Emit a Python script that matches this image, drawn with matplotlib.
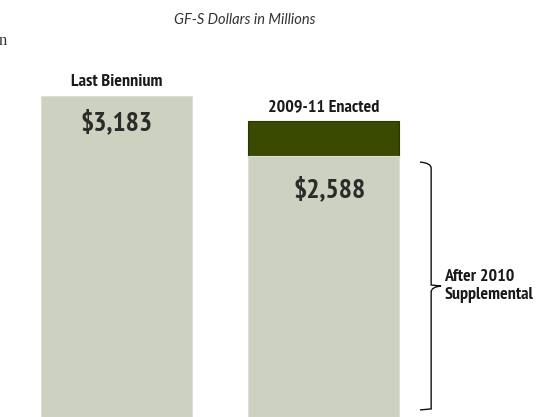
import matplotlib
matplotlib.use("Agg")
import matplotlib.pyplot as plt
from matplotlib.path import Path
from matplotlib.patches import PathPatch

# values, $ millions
labels = ["Last Biennium", "2009-11 Enacted"]
enacted = [3183, 2935]
after_supp = [3183, 2588]
value_text = ["$3,183", "$2,588"]
brace_label = "After 2010\nSupplemental"
title = "GF-S Dollars in Millions"

light = "#cdd2c0"
dark = "#3a4a00"
narrow = ["PT Sans Narrow", "DejaVu Sans"]

fig = plt.figure(figsize=(5.45, 4.17), dpi=100)
ax = fig.add_axes([0, 0, 1, 1])
ax.set_xlim(-0.563, 2.07)
ax.set_ylim(0, 4135)
ax.axis("off")

x = [0, 1]
w = 0.73
# dark cut portion on top of the second bar
ax.bar(x[1], enacted[1] - after_supp[1], width=w, bottom=after_supp[1],
       color=dark, edgecolor="#2a3500", linewidth=0.8)
ax.bar(x, after_supp, width=w, color=light, edgecolor="#dcdfd4", linewidth=0.8)

val_pad = [130, 200]
val_dx = [0, 0.03]
for i in range(2):
    ax.text(x[i], enacted[i] + 60, labels[i], ha="center", va="bottom",
            fontsize=13, fontweight="bold", family=narrow, color="#1a1a1a")
    ax.text(x[i] + val_dx[i], after_supp[i] - val_pad[i], value_text[i],
            ha="center", va="top", fontsize=20, fontweight="bold",
            family=narrow, color="#2b2b2b")

# curly brace next to the second bar
top = after_supp[1] - 60
bot = 70
mid = (top + bot) / 2
x0, x1, x2 = 1.466, 1.52, 1.568
verts = [(x0, top), (x1, top - 10), (x1, top - 60), (x1, top - 130),
         (x1, mid + 130), (x1, mid + 60), (x1, mid + 10), (x2, mid),
         (x1, mid - 10), (x1, mid - 60), (x1, mid - 130),
         (x1, bot + 130), (x1, bot + 60), (x1, bot + 10), (x0, bot)]
codes = [Path.MOVETO, Path.CURVE3, Path.CURVE3, Path.LINETO,
         Path.LINETO, Path.CURVE3, Path.CURVE3, Path.LINETO,
         Path.CURVE3, Path.CURVE3, Path.LINETO,
         Path.LINETO, Path.CURVE3, Path.CURVE3, Path.LINETO]
ax.add_patch(PathPatch(Path(verts, codes), fill=False, lw=1.0, color="#111111"))
ax.text(x2 + 0.015, mid, brace_label, ha="left", va="center", fontsize=13,
        fontweight="bold", family=narrow, color="#1a1a1a", linespacing=1.15)

fig.text(0.45, 0.952, title, ha="center", va="center", fontsize=10.5,
         style="italic", family=["Lato", "DejaVu Sans"], color="#333333")
fig.text(-0.002, 0.902, "n", ha="left", va="center", fontsize=12,
         family="Liberation Serif", color="#333333")

fig.savefig("out.png", dpi=100)
